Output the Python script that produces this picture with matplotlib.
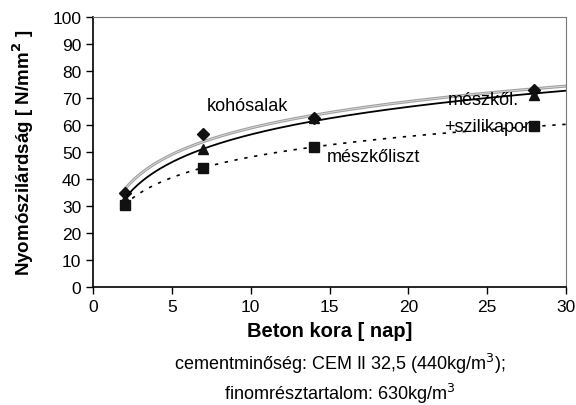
import numpy as np
import matplotlib
matplotlib.use("Agg")
from matplotlib import pyplot as plt

plt.rcParams['font.family'] = ['Liberation Sans', 'DejaVu Sans']

days = [2, 7, 14, 28]
kohosalak = [35, 56.5, 62.5, 73]
szilikapor = [32.5, 51, 62.5, 71]
meszkoliszt = [30.5, 44, 52, 59.5]


def log_trend(x, y):
    a, b = np.polyfit(np.log(x), y, 1)
    xs = np.linspace(2, 30, 200)
    return xs, a * np.log(xs) + b


fig = plt.figure(figsize=(5.76, 4.06), dpi=100)
ax = fig.add_axes([93 / 576, 1 - 288 / 406, 473 / 576, 270 / 406])

xs, ys = log_trend(days, kohosalak)
ax.plot(xs, ys, color='#a0a0a0', lw=2.2)
ax.plot(xs, ys, color='#dcdcdc', lw=0.6)
ax.plot(days, kohosalak, 'D', color='#111111', ms=6, ls='none')

xs, ys = log_trend(days, szilikapor)
ax.plot(xs, ys, color='black', lw=1.3)
ax.plot(days, szilikapor, '^', color='#111111', ms=7.5, ls='none')

xs, ys = log_trend(days, meszkoliszt)
ax.plot(xs, ys, color='black', lw=1.2, ls=(0, (2, 4)))
ax.plot(days, meszkoliszt, 's', color='#111111', ms=6.5, ls='none')

ax.text(7.2, 67.3, 'kohósalak', fontsize=13, va='center')
ax.text(22.5, 69.3, 'mészkől.', fontsize=13, va='center')
ax.text(22.3, 59.3, '+szilikapor', fontsize=13, va='center')
ax.text(14.8, 48.3, 'mészkőliszt', fontsize=13, va='center')

ax.set_xlim(0, 30)
ax.set_ylim(0, 100)
ax.set_xticks(range(0, 31, 5))
ax.set_yticks(range(0, 101, 10))
ax.tick_params(labelsize=12.5, length=5, direction='out', width=1)
for s in ['top', 'right']:
    ax.spines[s].set_color('#777777')
for s in ['left', 'bottom']:
    ax.spines[s].set_linewidth(1.2)

ax.set_xlabel('Beton kora [ nap]', fontsize=14.5, fontweight='bold', labelpad=5)
ax.set_ylabel('Nyomószilárdság [ N/mm$^\\mathbf{2}$ ]', fontsize=13.5, fontweight='bold', labelpad=12)

fig.text(0.59, 1 - 364 / 406, 'cementminőség: CEM II 32,5 (440kg/m$^3$);', fontsize=13, ha='center', va='center')
fig.text(0.59, 1 - 394 / 406, 'finomrésztartalom: 630kg/m$^3$', fontsize=13, ha='center', va='center')

fig.savefig('out.png', dpi=100)
